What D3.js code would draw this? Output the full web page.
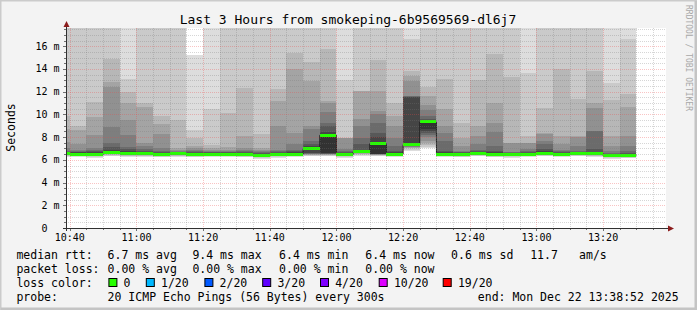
<!DOCTYPE html>
<html lang="en">
<head>
<meta charset="utf-8">
<title>Last 3 Hours from smokeping-6b9569569-dl6j7</title>
<script src="https://d3js.org/d3.v7.min.js"></script>
<style>
  body { margin: 0; background: #f3f3f3; }
  svg text { font-family: "DejaVu Sans Mono", monospace; white-space: pre; }
</style>
</head>
<body>
<script>
// 5 minute slots (start time of each slot)
const slotStarts = ['10:35', '10:40', '10:45', '10:50', '10:55', '11:00', '11:05', '11:10', '11:15',
  '11:20', '11:25', '11:30', '11:35', '11:40', '11:45', '11:50', '11:55', '12:00', '12:05', '12:10',
  '12:15', '12:20', '12:25', '12:30', '12:35', '12:40', '12:45', '12:50', '12:55', '13:00', '13:05',
  '13:10', '13:15', '13:20', '13:25'];

// median rtt per slot (ms)
const medians = [6.52, 6.51, 6.46, 6.63, 6.54, 6.54, 6.49, 6.54, 6.49, 6.51, 6.51, 6.49, 6.37, 6.46,
  6.51, 6.98, 8.16, 6.46, 6.69, 7.42, 6.51, 7.33, 9.33, 6.51, 6.49, 6.6, 6.49, 6.46, 6.51, 6.6, 6.51,
  6.6, 6.54, 6.37, 6.4];

// 20 sorted pings per slot (ms)
const pings = [
  [6.26, 6.31, 6.35, 6.39, 6.42, 6.44, 6.46, 6.48, 6.5, 6.51, 6.54, 6.6, 6.66, 6.74, 7.0, 7.6, 8.7, 9.9, 18.6, 22.3],
  [6.25, 6.3, 6.34, 6.38, 6.41, 6.43, 6.45, 6.47, 6.49, 6.5, 6.58, 6.65, 6.72, 6.8, 6.9, 7.4, 8.6, 9.0, 18.9, 24.1],
  [6.2, 6.26, 6.3, 6.33, 6.36, 6.39, 6.41, 6.43, 6.44, 6.45, 6.55, 6.65, 6.75, 6.85, 7.05, 8.2, 9.8, 11.1, 19.7, 26.5],
  [6.32, 6.38, 6.43, 6.47, 6.51, 6.54, 6.57, 6.59, 6.61, 6.62, 6.72, 6.85, 7.16, 7.45, 8.9, 12.44, 12.88, 14.9, 20.3, 27.8],
  [6.27, 6.33, 6.37, 6.41, 6.44, 6.46, 6.48, 6.5, 6.52, 6.53, 6.6, 6.8, 6.95, 7.16, 8.19, 9.51, 11.03, 12.0, 13.09, 20.6],
  [6.26, 6.32, 6.37, 6.41, 6.44, 6.46, 6.48, 6.5, 6.52, 6.53, 6.6, 6.7, 6.8, 6.95, 7.2, 7.51, 10.62, 10.97, 18.8, 23.2],
  [6.22, 6.28, 6.33, 6.37, 6.4, 6.42, 6.44, 6.46, 6.47, 6.48, 6.55, 6.62, 6.7, 6.8, 7.01, 8.27, 9.15, 9.86, 19.1, 25.4],
  [6.27, 6.33, 6.37, 6.41, 6.44, 6.46, 6.48, 6.5, 6.52, 6.53, 6.56, 6.6, 6.66, 6.72, 6.8, 6.9, 7.01, 9.51, 18.7, 22.9],
  [6.22, 6.28, 6.33, 6.37, 6.4, 6.42, 6.44, 6.46, 6.47, 6.48, 6.55, 6.62, 6.68, 6.75, 6.85, 7.0, 7.22, 7.89, 8.63, 15.23],
  [6.24, 6.3, 6.34, 6.38, 6.41, 6.43, 6.45, 6.47, 6.49, 6.5, 6.55, 6.6, 6.65, 6.7, 6.75, 6.85, 7.0, 7.31, 10.45, 19.8],
  [6.24, 6.3, 6.34, 6.38, 6.41, 6.43, 6.45, 6.47, 6.49, 6.5, 6.56, 6.62, 6.68, 6.72, 6.78, 6.9, 7.16, 10.1, 18.9, 24.7],
  [6.23, 6.29, 6.33, 6.37, 6.4, 6.42, 6.44, 6.46, 6.47, 6.48, 6.55, 6.62, 6.7, 6.78, 6.85, 7.07, 8.1, 12.3, 19.5, 23.6],
  [6.1, 6.16, 6.21, 6.25, 6.28, 6.3, 6.32, 6.34, 6.35, 6.36, 6.42, 6.5, 6.58, 6.66, 6.75, 6.84, 7.07, 8.25, 19.0, 21.8],
  [6.2, 6.26, 6.3, 6.33, 6.36, 6.39, 6.41, 6.43, 6.44, 6.45, 6.52, 6.6, 6.68, 6.76, 6.87, 8.98, 11.18, 12.25, 20.2, 26.0],
  [6.24, 6.3, 6.34, 6.38, 6.41, 6.43, 6.45, 6.47, 6.49, 6.5, 6.56, 6.65, 6.75, 6.87, 7.37, 8.39, 13.97, 15.43, 21.1, 28.3],
  [6.3, 6.36, 6.41, 6.45, 6.49, 6.52, 6.55, 6.57, 6.6, 6.9, 7.05, 7.2, 7.4, 7.66, 8.69, 8.98, 12.94, 14.61, 20.7, 25.9],
  [6.3, 6.36, 6.41, 6.45, 6.48, 6.5, 6.52, 6.54, 6.56, 6.6, 8.3, 8.45, 8.98, 9.27, 10.21, 10.97, 11.18, 15.73, 19.4, 24.5],
  [6.2, 6.26, 6.3, 6.33, 6.36, 6.39, 6.41, 6.43, 6.44, 6.45, 6.52, 6.6, 6.68, 6.78, 6.93, 7.9, 7.93, 7.95, 13.05, 21.7],
  [6.38, 6.44, 6.49, 6.53, 6.57, 6.6, 6.62, 6.64, 6.66, 6.68, 6.78, 6.9, 7.37, 7.95, 8.98, 9.6, 12.04, 12.06, 19.3, 23.1],
  [6.3, 6.35, 6.39, 6.42, 6.45, 6.47, 6.49, 6.5, 6.52, 6.55, 7.5, 8.0, 8.39, 9.27, 10.0, 10.3, 12.06, 14.8, 20.4, 27.2],
  [6.24, 6.3, 6.34, 6.38, 6.41, 6.43, 6.45, 6.47, 6.49, 6.5, 6.56, 6.65, 6.78, 7.22, 7.95, 8.98, 9.86, 11.03, 19.6, 22.4],
  [6.8, 6.9, 7.0, 7.05, 7.1, 7.15, 7.2, 7.22, 7.25, 7.28, 7.5, 11.5, 11.55, 11.6, 11.62, 12.94, 13.38, 13.82, 16.6, 21.5],
  [7.01, 7.16, 7.31, 7.5, 7.69, 7.98, 8.15, 8.33, 8.5, 8.69, 9.38, 9.45, 9.6, 9.9, 10.35, 10.8, 11.6, 12.44, 19.9, 25.3],
  [6.24, 6.3, 6.34, 6.38, 6.41, 6.43, 6.45, 6.47, 6.49, 6.5, 6.56, 6.68, 6.8, 7.66, 8.39, 8.98, 10.45, 13.09, 20.1, 24.8],
  [6.22, 6.28, 6.33, 6.37, 6.4, 6.42, 6.44, 6.46, 6.47, 6.48, 6.55, 6.6, 6.66, 6.72, 6.78, 7.22, 7.95, 9.27, 18.8, 22.6],
  [6.3, 6.36, 6.41, 6.45, 6.49, 6.52, 6.54, 6.56, 6.58, 6.59, 6.65, 6.72, 6.8, 6.87, 7.37, 8.1, 8.98, 13.06, 19.7, 25.1],
  [6.22, 6.28, 6.33, 6.37, 6.4, 6.42, 6.44, 6.46, 6.47, 6.48, 6.55, 6.7, 6.8, 7.22, 8.45, 9.27, 11.03, 15.29, 20.5, 26.7],
  [6.2, 6.26, 6.3, 6.33, 6.36, 6.39, 6.41, 6.43, 6.44, 6.45, 6.5, 6.56, 6.62, 6.66, 6.7, 7.49, 7.51, 13.32, 19.2, 23.9],
  [6.24, 6.3, 6.34, 6.38, 6.41, 6.43, 6.45, 6.47, 6.49, 6.5, 6.56, 6.62, 6.7, 6.8, 6.92, 7.49, 7.51, 8.1, 13.67, 21.2],
  [6.3, 6.36, 6.41, 6.45, 6.49, 6.52, 6.54, 6.56, 6.58, 6.59, 6.65, 6.75, 6.93, 7.4, 7.66, 8.3, 8.33, 10.59, 19.0, 22.7],
  [6.24, 6.3, 6.34, 6.38, 6.41, 6.43, 6.45, 6.47, 6.49, 6.5, 6.55, 6.6, 6.68, 6.75, 6.87, 7.37, 8.1, 13.97, 20.8, 24.2],
  [6.3, 6.36, 6.41, 6.45, 6.49, 6.52, 6.54, 6.56, 6.58, 6.59, 6.62, 6.66, 6.72, 6.78, 7.22, 8.05, 8.1, 11.38, 19.3, 23.0],
  [6.27, 6.33, 6.37, 6.41, 6.44, 6.46, 6.48, 6.5, 6.52, 6.53, 6.6, 6.7, 6.93, 8.5, 8.54, 10.59, 11.03, 13.82, 20.6, 27.4],
  [6.1, 6.16, 6.21, 6.25, 6.28, 6.3, 6.32, 6.34, 6.35, 6.36, 6.4, 6.45, 6.5, 6.6, 6.78, 7.22, 8.1, 11.27, 12.79, 19.9],
  [6.13, 6.19, 6.24, 6.28, 6.31, 6.33, 6.35, 6.37, 6.38, 6.39, 6.44, 6.5, 6.6, 6.78, 7.22, 8.1, 10.65, 11.77, 16.66, 21.4]
];

const yTicks = [0, 2, 4, 6, 8, 10, 12, 14, 16];
const yTickLabels = ['0  ', '2 m', '4 m', '6 m', '8 m', '10 m', '12 m', '14 m', '16 m'];
const xTicks = ['10:40', '11:00', '11:20', '11:40', '12:00', '12:20', '12:40', '13:00', '13:20'];

const titleText = 'Last 3 Hours from smokeping-6b9569569-dl6j7';
const rowLabels = ['median rtt:', 'packet loss:', 'loss color:', 'probe:'];
const rttStats = ['6.7 ms avg', '9.4 ms max', '6.4 ms min', '6.4 ms now', '0.6 ms sd', '11.7', 'am/s'];
const lossStats = ['0.00 % avg', '0.00 % max', '0.00 % min', '0.00 % now'];
const lossLabels = ['0', '1/20', '2/20', '3/20', '4/20', '10/20', '19/20'];
const lossColors = ['#26ff00', '#00b8ff', '#0059ff', '#5e00ff', '#7e00ff', '#dd00ff', '#ff0000'];
const probeText = '20 ICMP Echo Pings (56 Bytes) every 300s';
const endText = 'end: Mon Dec 22 13:38:52 2025';

// smoke shades, outermost band first
const smokeShades = ['#dddddd', '#cacaca', '#b7b7b7', '#a4a4a4', '#919191',
                     '#7e7e7e', '#6b6b6b', '#585858', '#454545', '#323232'];

const W = 697, H = 310;
const pLeft = 66, pRight = 666, pTop = 28, pBottom = 228;

const day = t => d3.timeParse('%Y-%m-%d %H:%M:%S')('2025-12-22 ' + t);
const slots = slotStarts.map((s, i) => ({
  t0: day(s + ':00'), t1: d3.timeMinute.offset(day(s + ':00'), 5),
  pings: pings[i], median: medians[i]
}));

const x = d3.scaleTime()
  .domain([day('10:38:52'), day('13:38:52')])
  .range([pLeft, pRight]);
const y = d3.scaleLinear().domain([0, 17.6]).range([pBottom, pTop]);

const svg = d3.select('body').append('svg')
  .attr('width', W).attr('height', H).style('display', 'block');

// frame
svg.append('rect').attr('width', W).attr('height', H).attr('fill', '#f3f3f3');
svg.append('path').attr('d', `M0.5,${H} V0.5 H${W}`).attr('fill', 'none')
  .attr('stroke', '#cbcbcb').attr('stroke-width', 2);
svg.append('path').attr('d', `M1,${H - 1} H${W - 1} V1`).attr('fill', 'none')
  .attr('stroke', '#c4c4c4').attr('stroke-width', 3);

svg.append('rect').attr('x', pLeft).attr('y', pTop)
  .attr('width', pRight - pLeft).attr('height', pBottom - pTop).attr('fill', '#ffffff');

svg.append('clipPath').attr('id', 'plot')
  .append('rect').attr('x', pLeft + 1).attr('y', pTop)
  .attr('width', pRight - pLeft - 1).attr('height', pBottom - pTop);

const plot = svg.append('g').attr('clip-path', 'url(#plot)');

// smoke bands: band k spans ping k .. ping 21-k
slots.forEach(s => {
  smokeShades.forEach((c, k) => {
    const lo = s.pings[k], hi = s.pings[19 - k];
    plot.append('rect')
      .attr('x', x(s.t0)).attr('width', x(s.t1) - x(s.t0))
      .attr('y', y(hi)).attr('height', y(lo) - y(hi))
      .attr('fill', c).attr('shape-rendering', 'crispEdges');
  });
});

// median line
const medPts = [];
slots.forEach(s => { medPts.push([s.t0, s.median]); medPts.push([s.t1, s.median]); });
plot.append('path')
  .attr('d', d3.line().x(d => x(d[0])).y(d => y(d[1]))(medPts))
  .attr('fill', 'none').attr('stroke', '#202020').attr('stroke-width', 1);

plot.selectAll('rect.med').data(slots).enter().append('rect')
  .attr('class', 'med')
  .attr('x', d => x(d.t0)).attr('width', d => x(d.t1) - x(d.t0))
  .attr('y', d => y(d.median) - 1.5).attr('height', 3)
  .attr('fill', lossColors[0]).attr('shape-rendering', 'crispEdges');

// grid on top
const grid = svg.append('g').attr('shape-rendering', 'crispEdges');
const minorX = d3.timeMinute.every(5).range(day('10:39:00'), day('13:38:52'));
const majorX = d3.timeMinute.every(20).range(day('10:39:00'), day('13:38:52'));
const isMajorX = t => t.getMinutes() % 20 === 0;
const minorCol = 'rgba(120,120,120,0.3)', majorCol = 'rgba(235,70,70,0.32)';
grid.selectAll('line.vx').data(minorX.filter(t => !isMajorX(t))).enter().append('line')
  .attr('x1', d => Math.round(x(d)) + 0.5).attr('x2', d => Math.round(x(d)) + 0.5)
  .attr('y1', pTop).attr('y2', pBottom)
  .attr('stroke', minorCol).attr('stroke-dasharray', '1,1');
grid.selectAll('line.mx').data(majorX).enter().append('line')
  .attr('x1', d => Math.round(x(d)) + 0.5).attr('x2', d => Math.round(x(d)) + 0.5)
  .attr('y1', pTop).attr('y2', pBottom)
  .attr('stroke', majorCol).attr('stroke-dasharray', '1,1');
const minorY = d3.range(0.5, 17.6, 0.5).filter(v => v % 2 !== 0);
grid.selectAll('line.vy').data(minorY).enter().append('line')
  .attr('x1', pLeft).attr('x2', pRight)
  .attr('y1', d => Math.round(y(d)) + 0.5).attr('y2', d => Math.round(y(d)) + 0.5)
  .attr('stroke', minorCol).attr('stroke-dasharray', '1,1');
grid.selectAll('line.my').data(yTicks.slice(1)).enter().append('line')
  .attr('x1', pLeft).attr('x2', pRight)
  .attr('y1', d => Math.round(y(d)) + 0.5).attr('y2', d => Math.round(y(d)) + 0.5)
  .attr('stroke', majorCol).attr('stroke-dasharray', '1,1');

// ticks
grid.selectAll('line.ty').data(d3.range(0.5, 17.6, 0.5)).enter().append('line')
  .attr('x1', d => d % 2 === 0 ? pLeft - 3 : pLeft - 2).attr('x2', pLeft)
  .attr('y1', d => Math.round(y(d)) + 0.5).attr('y2', d => Math.round(y(d)) + 0.5)
  .attr('stroke', '#707070');
grid.selectAll('line.tx').data(minorX).enter().append('line')
  .attr('x1', d => Math.round(x(d)) + 0.5).attr('x2', d => Math.round(x(d)) + 0.5)
  .attr('y1', pBottom).attr('y2', d => isMajorX(d) ? pBottom + 3 : pBottom + 2)
  .attr('stroke', '#707070');

// axes
svg.append('line').attr('x1', pLeft + 0.5).attr('x2', pLeft + 0.5)
  .attr('y1', pBottom + 3).attr('y2', pTop - 2).attr('stroke', '#303030');
svg.append('line').attr('x1', pLeft - 3).attr('x2', pRight + 3)
  .attr('y1', pBottom + 0.5).attr('y2', pBottom + 0.5).attr('stroke', '#303030');
svg.append('path').attr('d', `M${pLeft - 2.5},${pTop - 1} L${pLeft + 3.5},${pTop - 1} L${pLeft + 0.5},${pTop - 7} Z`)
  .attr('fill', '#8b1c1c');
svg.append('path').attr('d', `M${pRight + 2},${pBottom - 2.5} L${pRight + 2},${pBottom + 3.5} L${pRight + 8},${pBottom + 0.5} Z`)
  .attr('fill', '#8b1c1c');

// tick labels
svg.selectAll('text.yl').data(yTicks).enter().append('text')
  .attr('x', 59.5).attr('y', d => y(d)).attr('dy', '0.35em')
  .attr('text-anchor', 'end').attr('font-size', 10).attr('fill', '#000')
  .text((d, i) => yTickLabels[i]);
svg.selectAll('text.xl').data(xTicks).enter().append('text')
  .attr('x', d => x(day(d + ':00'))).attr('y', 240.5)
  .attr('text-anchor', 'middle').attr('font-size', 10).attr('fill', '#000')
  .text(d => d);

// titles
svg.append('text').attr('x', 348).attr('y', 24).attr('text-anchor', 'middle')
  .attr('font-size', 13).text(titleText);
svg.append('text').attr('transform', 'translate(14.5,127.5) rotate(-90)')
  .attr('text-anchor', 'middle').attr('font-size', 11.5).text('Seconds');
svg.append('text').attr('transform', 'translate(685.5,5) rotate(90)')
  .attr('font-size', 8).attr('fill', '#a8a8a8').text('RRDTOOL / TOBI OETIKER');

// legend
const rowY = [258.5, 272.7, 287, 301];
const statX = [107.6, 192.4, 279.1, 365.3, 451.1, 530.2, 579.1];
const boxX = [108.4, 145.8, 204.4, 262.2, 320, 378.7, 442.7];
const lg = svg.append('g').attr('font-size', 11.5).attr('fill', '#000');
rowLabels.forEach((t, i) => lg.append('text').attr('x', 16.4).attr('y', rowY[i]).text(t));
rttStats.forEach((t, i) => lg.append('text').attr('x', statX[i]).attr('y', rowY[0]).text(t));
lossStats.forEach((t, i) => lg.append('text').attr('x', statX[i]).attr('y', rowY[1]).text(t));
lossLabels.forEach((t, i) => {
  lg.append('rect').attr('x', boxX[i] + 0.5).attr('y', 278.5).attr('width', 8).attr('height', 8)
    .attr('fill', lossColors[i]).attr('stroke', '#000');
  lg.append('text').attr('x', boxX[i] + 15.2).attr('y', rowY[2]).text(t);
});
lg.append('text').attr('x', statX[0]).attr('y', rowY[3]).text(probeText);
lg.append('text').attr('x', 477.8).attr('y', rowY[3]).text(endText);
</script>
</body>
</html>
